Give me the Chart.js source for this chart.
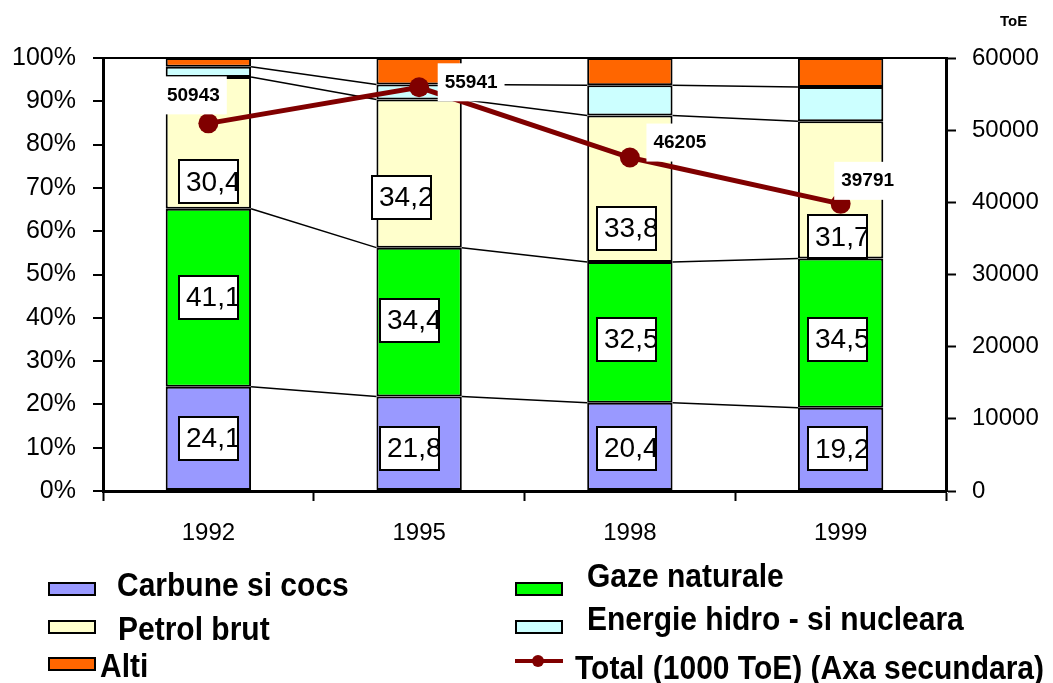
<!DOCTYPE html>
<html>
<head>
<meta charset="utf-8">
<script src="https://cdn.jsdelivr.net/npm/chart.js@4/dist/chart.umd.min.js"></script>
<style>
  html,body{margin:0;padding:0;background:#fff;}
  #wrap{position:relative;width:1053px;height:683px;overflow:hidden;font-family:'Liberation Sans',Arial,sans-serif;}
  canvas{position:absolute;left:0;top:0;}
  .lg{position:absolute;font-weight:bold;font-size:30px;color:#000;white-space:nowrap;line-height:1;transform:scaleY(1.12);transform-origin:left center;}
  .sw{position:absolute;width:44px;height:10px;border:2px solid #000;}
  #toe{position:absolute;left:1000px;top:12px;font-weight:bold;font-size:15px;}
</style>
</head>
<body>
<div id="wrap">
  <canvas id="c" width="1053" height="683"></canvas>
  <div id="toe">ToE</div>
  <div class="sw" style="left:48px;top:582px;background:#9999FF"></div>
  <div class="lg" style="left:117px;top:570px">Carbune si cocs</div>
  <div class="sw" style="left:48px;top:620px;background:#FFFFCC"></div>
  <div class="lg" style="left:118px;top:614px">Petrol brut</div>
  <div class="sw" style="left:48px;top:657px;background:#FF6600"></div>
  <div class="lg" style="left:100px;top:651px">Alti</div>
  <div class="sw" style="left:515px;top:582px;background:#00FF00"></div>
  <div class="lg" style="left:587px;top:561px">Gaze naturale</div>
  <div class="sw" style="left:515px;top:620px;background:#CCFFFF"></div>
  <div class="lg" style="left:587px;top:604px">Energie hidro - si nucleara</div>
  <div style="position:absolute;left:515px;top:659px;width:48px;height:4px;background:#800000"></div>
  <div style="position:absolute;left:532px;top:655px;width:12px;height:12px;border-radius:50%;background:#800000"></div>
  <div class="lg" style="left:575px;top:653px">Total (1000 ToE) (Axa secundara)</div>
</div>
<script>
const categories = ['1992', '1995', '1998', '1999'];
const carbune = [24.1, 21.8, 20.4, 19.2];
const gaze = [41.1, 34.4, 32.5, 34.5];
const petrol = [30.4, 34.2, 33.8, 31.7];
const hidro = [2.4, 3.5, 7.0, 7.9];
const alti = [2.0, 6.1, 6.3, 6.7];
const total = [50943, 55941, 46205, 39791];
const percentTicks = [0, 10, 20, 30, 40, 50, 60, 70, 80, 90, 100];
const toeTicks = [0, 10000, 20000, 30000, 40000, 50000, 60000];

const FONT = "'Liberation Sans', Arial, sans-serif";

// label placement offsets (style only): [dx, dy] per dataset per category
const barLabelOffsets = [
  [[0, 0], [-10, 5], [-3, 2], [-3, 0]],
  [[0, 0], [-10, -2], [-3, 7], [-3, 6]],
  [[0, 39], [-18, 24], [-3, 40], [-3, 47]]
];
const lineLabelOffsets = [[-15, -29], [52, -6], [50, -16], [27, -24]];

const fmt = v => v.toFixed(1).replace('.', ',');

const seriesLinesPlugin = {
  id: 'seriesLines',
  beforeDatasetsDraw(chart) {
    const ctx = chart.ctx;
    ctx.save();
    ctx.strokeStyle = '#000';
    ctx.lineWidth = 1.5;
    for (let d = 0; d < 4; d++) {
      const meta = chart.getDatasetMeta(d + 1);
      const els = meta.data;
      for (let i = 0; i < els.length - 1; i++) {
        const a = els[i].getProps(['x', 'y', 'width'], true);
        const b = els[i + 1].getProps(['x', 'y', 'width'], true);
        ctx.beginPath();
        ctx.moveTo(a.x + a.width / 2, a.y);
        ctx.lineTo(b.x - b.width / 2, b.y);
        ctx.stroke();
      }
    }
    ctx.restore();
  }
};

const labelsPlugin = {
  id: 'labels',
  afterDatasetsDraw(chart) {
    const ctx = chart.ctx;
    ctx.save();
    for (let d = 1; d <= 3; d++) {
      const meta = chart.getDatasetMeta(d);
      const data = chart.data.datasets[d].data;
      meta.data.forEach((el, i) => {
        const p = el.getProps(['x', 'y', 'base'], true);
        const off = barLabelOffsets[d - 1][i];
        const cx = p.x + off[0];
        const cy = (p.y + p.base) / 2 + off[1];
        const w = 59, h = 43;
        const x0 = Math.round(cx - w / 2), y0 = Math.round(cy - h / 2);
        ctx.fillStyle = '#fff';
        ctx.fillRect(x0, y0, w, h);
        ctx.save();
        ctx.beginPath();
        ctx.rect(x0, y0, w, h);
        ctx.clip();
        ctx.fillStyle = '#000';
        ctx.font = '28px ' + FONT;
        ctx.textAlign = 'left';
        ctx.textBaseline = 'middle';
        ctx.fillText(fmt(data[i]), x0 + 7, cy + 1);
        ctx.restore();
        ctx.strokeStyle = '#000';
        ctx.lineWidth = 2;
        ctx.strokeRect(x0, y0, w, h);
      });
    }
    const lm = chart.getDatasetMeta(0);
    lm.data.forEach((el, i) => {
      const off = lineLabelOffsets[i];
      const cx = el.x + off[0], cy = el.y + off[1];
      ctx.font = 'bold 19px ' + FONT;
      const txt = String(chart.data.datasets[0].data[i]);
      const tw = ctx.measureText(txt).width;
      ctx.fillStyle = '#fff';
      ctx.fillRect(cx - tw / 2 - 7, cy - 18, tw + 14, 38);
      ctx.fillStyle = '#000';
      ctx.textAlign = 'center';
      ctx.textBaseline = 'middle';
      ctx.fillText(txt, cx, cy + 1);
    });
    ctx.restore();
  }
};

const barBase = {
  type: 'bar',
  yAxisID: 'y',
  stack: 's',
  borderColor: '#000',
  borderWidth: 2,
  borderSkipped: false,
  barPercentage: 0.405,
  categoryPercentage: 1,
  order: 1
};

new Chart(document.getElementById('c'), {
  data: {
    labels: categories,
    datasets: [
      {
        type: 'line', label: 'Total (1000 ToE) (Axa secundara)', data: total, yAxisID: 'y1',
        borderColor: '#800000', backgroundColor: '#800000', borderWidth: 5,
        pointRadius: 10, pointHoverRadius: 10, pointBackgroundColor: '#800000', pointBorderWidth: 0,
        tension: 0, order: 0
      },
      Object.assign({ label: 'Carbune si cocs', data: carbune, backgroundColor: '#9999FF' }, barBase),
      Object.assign({ label: 'Gaze naturale', data: gaze, backgroundColor: '#00FF00' }, barBase),
      Object.assign({ label: 'Petrol brut', data: petrol, backgroundColor: '#FFFFCC' }, barBase),
      Object.assign({ label: 'Energie hidro - si nucleara', data: hidro, backgroundColor: '#CCFFFF' }, barBase),
      Object.assign({ label: 'Alti', data: alti, backgroundColor: '#FF6600' }, barBase)
    ]
  },
  options: {
    responsive: false,
    animation: false,
    devicePixelRatio: 1,
    layout: { padding: { top: 58, left: 0, right: 0, bottom: 0 } },
    plugins: { legend: { display: false }, tooltip: { enabled: false } },
    scales: {
      x: {
        stacked: true,
        offset: true,
        grid: { offset: true, drawOnChartArea: false, drawTicks: true, tickLength: 10, tickColor: '#000', tickWidth: 2 },
        border: { color: '#000', width: 3 },
        ticks: { color: '#000', font: { family: FONT, size: 24 }, padding: 18 },
        afterFit: s => { s.height = 192; }
      },
      y: {
        position: 'left',
        stacked: true,
        min: 0, max: 100,
        afterBuildTicks: s => { s.ticks = percentTicks.map(v => ({ value: v })); },
        ticks: { color: '#000', font: { family: FONT, size: 25 }, padding: 17, callback: v => v + '%' },
        grid: {
          drawOnChartArea: true, drawTicks: true, tickLength: 10, tickColor: '#000', tickWidth: 2,
          color: c => (c.tick && c.tick.value === 100) ? '#000' : 'rgba(0,0,0,0)', lineWidth: 2
        },
        border: { color: '#000', width: 3 },
        afterFit: s => { s.width = 103; }
      },
      y1: {
        position: 'right',
        stacked: false,
        min: 0, max: 60000,
        afterBuildTicks: s => { s.ticks = toeTicks.map(v => ({ value: v })); },
        ticks: { color: '#000', font: { family: FONT, size: 24 }, padding: 16, callback: v => String(v) },
        grid: { drawOnChartArea: false, drawTicks: true, tickLength: 10, tickColor: '#000', tickWidth: 2 },
        border: { color: '#000', width: 3 },
        afterFit: s => { s.width = 107; }
      }
    }
  },
  plugins: [seriesLinesPlugin, labelsPlugin]
});
</script>
</body>
</html>
